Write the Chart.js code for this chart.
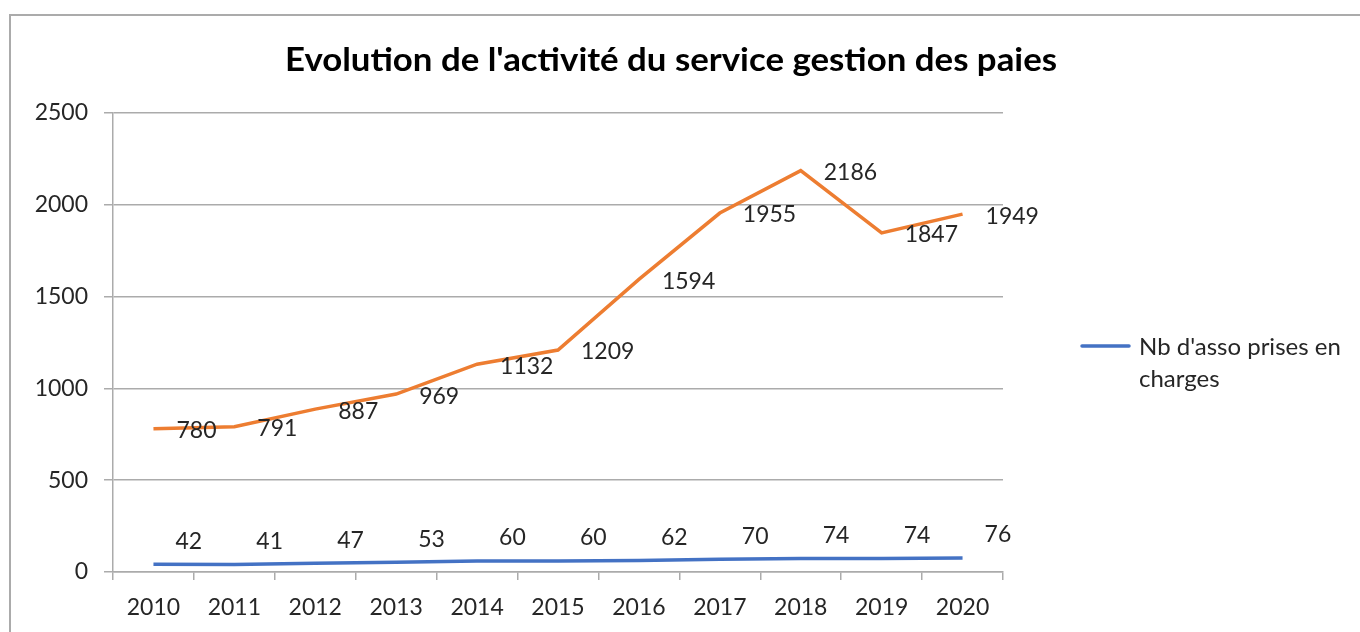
<!DOCTYPE html>
<html>
<head>
<meta charset="utf-8">
<script src="https://cdn.jsdelivr.net/npm/chart.js@4/dist/chart.umd.min.js"></script>
<style>
  html, body { margin: 0; padding: 0; background: #ffffff; }
  #wrap { position: relative; width: 1360px; height: 632px; overflow: hidden; }
  #frame { position: absolute; left: 9px; top: 14px; width: 1400px; height: 700px; border: 2px solid #ababab; box-sizing: border-box; pointer-events: none; }
</style>
</head>
<body>
<div id="wrap">
  <canvas id="c" width="1360" height="632"></canvas>
  <div id="frame"></div>
</div>
<script>
const titleText = "Evolution de l'activité du service gestion des paies";
const categories = ["2010","2011","2012","2013","2014","2015","2016","2017","2018","2019","2020"];
const associations = [42, 41, 47, 53, 60, 60, 62, 70, 74, 74, 76];
const paies = [780, 791, 887, 969, 1132, 1209, 1594, 1955, 2186, 1847, 1949];
const legendLines = ["Nb d'asso prises en", "charges"];
const yTicks = [0, 500, 1000, 1500, 2000, 2500];

const FONT = "Lato, 'Open Sans', sans-serif";
const BLUE = "#4472C4";
const ORANGE = "#ED7D31";
const TEXT = "#262626";

const overlay = {
  id: "overlay",
  afterDatasetsDraw(chart) {
    const ctx = chart.ctx;
    ctx.save();
    // data labels
    ctx.font = "23px " + FONT;
    ctx.fillStyle = TEXT;
    ctx.textAlign = "left";
    ctx.textBaseline = "middle";
    chart.getDatasetMeta(1).data.forEach((pt, i) => {
      ctx.fillText(String(paies[i]), pt.x + 23, pt.y + 2);
    });
    chart.getDatasetMeta(0).data.forEach((pt, i) => {
      ctx.fillText(String(associations[i]), pt.x + 22, pt.y - 23);
    });
    // title
    ctx.font = "bold 33px " + FONT;
    ctx.fillStyle = "#000000";
    ctx.textAlign = "center";
    ctx.textBaseline = "middle";
    const w = ctx.measureText(titleText).width;
    const target = 772;
    ctx.save();
    ctx.translate(671, 60);
    ctx.scale(target / w, 1);
    ctx.fillText(titleText, 0, 0);
    ctx.restore();
    // legend
    ctx.strokeStyle = BLUE;
    ctx.lineWidth = 3.5;
    ctx.lineCap = "round";
    ctx.beginPath();
    ctx.moveTo(1082, 346);
    ctx.lineTo(1129, 346);
    ctx.stroke();
    ctx.font = "24px " + FONT;
    ctx.fillStyle = TEXT;
    ctx.textAlign = "left";
    ctx.textBaseline = "middle";
    legendLines.forEach((t, i) => ctx.fillText(t, 1139, 347 + i * 32));
    ctx.restore();
  }
};

new Chart(document.getElementById("c"), {
  type: "line",
  data: {
    labels: categories,
    datasets: [
      { label: "Nb d'asso prises en charges", data: associations, borderColor: BLUE, borderWidth: 3.5, pointRadius: 0, tension: 0, fill: false },
      { label: "Nb de paies", data: paies, borderColor: ORANGE, borderWidth: 3.5, pointRadius: 0, tension: 0, fill: false }
    ]
  },
  options: {
    responsive: false,
    animation: false,
    devicePixelRatio: 1,
    layout: { padding: { top: 113, right: 357, left: 0, bottom: 0 } },
    plugins: { legend: { display: false }, title: { display: false }, tooltip: { enabled: false } },
    scales: {
      x: {
        offset: true,
        afterFit(s) { s.height = 60; },
        grid: { offset: true, drawOnChartArea: false, drawTicks: true, tickLength: 8, color: "#ababab", lineWidth: 1.5 },
        border: { display: true, color: "#ababab", width: 1.5 },
        ticks: { font: { family: FONT, size: 23 }, color: TEXT, padding: 14, maxRotation: 0 }
      },
      y: {
        min: 0, max: 2500,
        afterFit(s) { s.width = 113; },
        afterBuildTicks(s) { s.ticks = yTicks.map(v => ({ value: v })); },
        grid: { color: "#ababab", lineWidth: 1.5, tickLength: 9 },
        border: { display: true, color: "#ababab", width: 1.5 },
        ticks: { font: { family: FONT, size: 23 }, color: TEXT, padding: 16, callback: v => String(v) }
      }
    }
  },
  plugins: [overlay]
});
</script>
</body>
</html>
